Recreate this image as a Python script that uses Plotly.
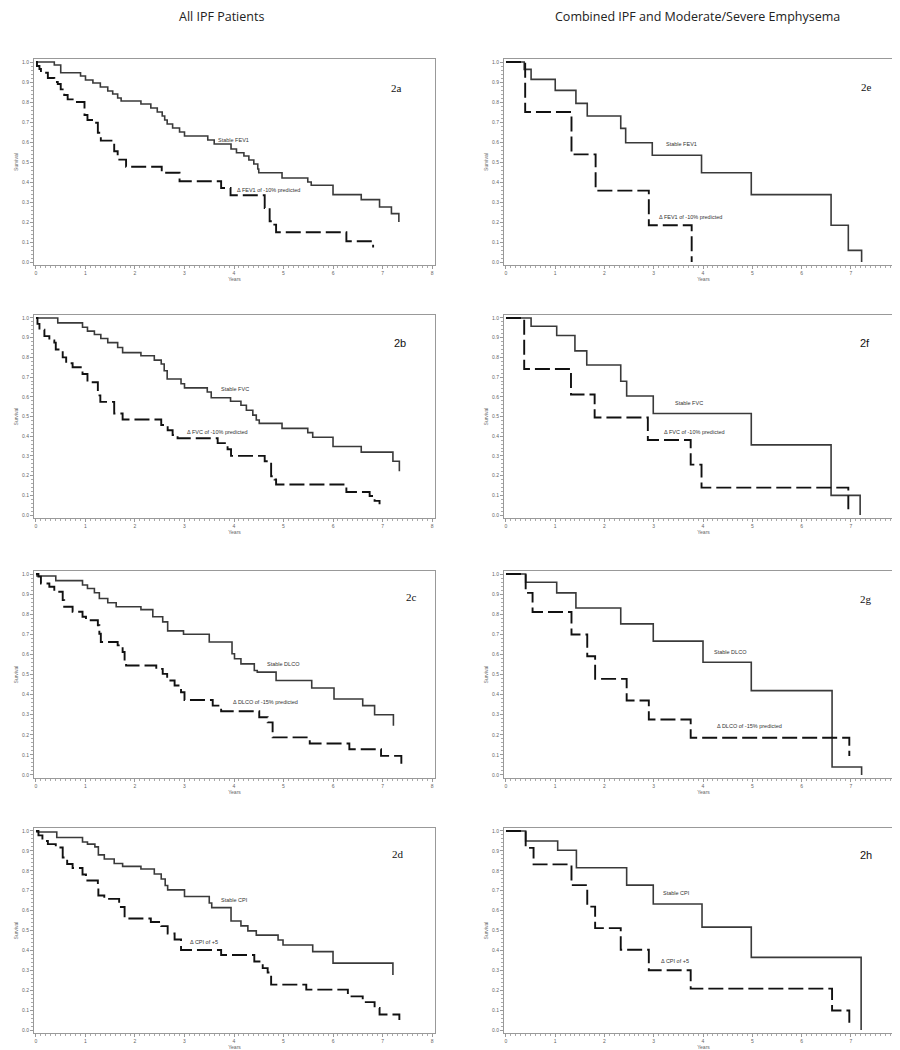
import plotly.graph_objects as go

# ---------------- data (years, survival) ----------------
# 2a  All IPF - FEV1
a_stable_t = [0, 0.37, 0.5, 0.9, 1.0, 1.15, 1.3, 1.45, 1.55, 1.65, 1.72, 2.12, 2.32, 2.45, 2.55, 2.6, 2.65, 2.76, 2.9, 3.0,
              3.47, 3.6, 3.94, 4.05, 4.2, 4.3, 4.4, 4.48, 4.5, 4.97, 5.49, 5.56, 6.0, 6.57, 6.94, 7.18, 7.33, 7.33]
a_stable_s = [1.0, 0.985, 0.946, 0.93, 0.91, 0.895, 0.875, 0.855, 0.84, 0.82, 0.805, 0.79, 0.77, 0.75, 0.73, 0.71, 0.69, 0.67, 0.65, 0.63,
              0.61, 0.59, 0.565, 0.546, 0.53, 0.51, 0.49, 0.465, 0.446, 0.42, 0.40, 0.384, 0.337, 0.312, 0.275, 0.242, 0.242, 0.20]
a_change_t = [0, 0.02, 0.07, 0.1, 0.24, 0.37, 0.44, 0.5, 0.57, 0.64, 0.77, 0.98, 1.04, 1.19, 1.25, 1.31, 1.58, 1.65, 1.82, 2.54,
              2.9, 3.74, 3.93, 4.62, 4.72, 4.78, 4.85, 6.27, 6.81, 6.81]
a_change_s = [1.0, 0.98, 0.965, 0.946, 0.92, 0.90, 0.89, 0.863, 0.835, 0.813, 0.80, 0.735, 0.71, 0.696, 0.646, 0.607, 0.554, 0.512, 0.476, 0.446,
              0.404, 0.37, 0.334, 0.27, 0.204, 0.187, 0.149, 0.104, 0.104, 0.073]

# 2b  All IPF - FVC
b_stable_t = [0, 0.44, 0.94, 1.04, 1.18, 1.31, 1.45, 1.65, 1.75, 2.12, 2.39, 2.53, 2.59, 2.65, 2.93, 3.0, 3.46, 3.54, 3.93, 4.14,
              4.25, 4.38, 4.45, 4.51, 4.97, 5.49, 5.59, 6.0, 6.57, 7.21, 7.34, 7.34]
b_stable_s = [1.0, 0.975, 0.953, 0.933, 0.916, 0.896, 0.875, 0.85, 0.824, 0.808, 0.786, 0.766, 0.732, 0.69, 0.666, 0.645, 0.624, 0.595, 0.577, 0.557,
              0.532, 0.507, 0.482, 0.465, 0.44, 0.418, 0.395, 0.348, 0.319, 0.273, 0.273, 0.222]
b_change_t = [0, 0.03, 0.07, 0.17, 0.27, 0.37, 0.4, 0.54, 0.61, 0.74, 0.94, 1.04, 1.25, 1.3, 1.58, 1.75, 2.53, 2.66, 2.76, 2.86,
              3.67, 3.87, 3.94, 4.62, 4.75, 4.82, 4.85, 6.27, 6.74, 6.84, 6.94, 6.94]
b_change_s = [1.0, 0.97, 0.94, 0.908, 0.886, 0.875, 0.84, 0.80, 0.77, 0.75, 0.716, 0.674, 0.607, 0.574, 0.515, 0.485, 0.457, 0.43, 0.406, 0.39,
              0.365, 0.334, 0.30, 0.273, 0.197, 0.18, 0.155, 0.117, 0.097, 0.072, 0.072, 0.055]

# 2c  All IPF - DLCO
c_stable_t = [0, 0.02, 0.4, 0.94, 1.04, 1.18, 1.28, 1.45, 1.62, 2.12, 2.36, 2.56, 2.66, 2.98, 3.5, 3.96, 4.01, 4.14, 4.41, 4.47,
              4.85, 5.57, 6.02, 6.6, 6.84, 7.22, 7.22]
c_stable_s = [1.0, 0.99, 0.967, 0.945, 0.928, 0.907, 0.878, 0.857, 0.837, 0.823, 0.787, 0.762, 0.717, 0.70, 0.662, 0.603, 0.578, 0.553, 0.52, 0.512,
              0.47, 0.433, 0.378, 0.345, 0.30, 0.30, 0.245]
c_change_t = [0, 0.05, 0.1, 0.27, 0.37, 0.54, 0.57, 0.74, 0.94, 1.01, 1.25, 1.28, 1.31, 1.65, 1.75, 1.79, 1.82, 2.43, 2.56, 2.65,
              2.8, 2.93, 3.0, 3.57, 3.74, 4.51, 4.68, 4.78, 5.53, 6.33, 6.97, 7.38, 7.38]
c_change_s = [1.0, 0.987, 0.953, 0.937, 0.912, 0.87, 0.837, 0.812, 0.787, 0.77, 0.745, 0.703, 0.662, 0.645, 0.612, 0.57, 0.545, 0.528, 0.503, 0.47,
              0.445, 0.412, 0.373, 0.345, 0.317, 0.287, 0.262, 0.187, 0.157, 0.128, 0.095, 0.095, 0.053]

# 2d  All IPF - CPI
d_stable_t = [0, 0.02, 0.42, 0.94, 1.04, 1.19, 1.26, 1.38, 1.58, 1.75, 2.12, 2.39, 2.53, 2.61, 2.66, 3.0, 3.5, 3.55, 3.94, 4.14,
              4.28, 4.45, 4.89, 4.99, 5.59, 6.0, 7.21, 7.21]
d_stable_s = [1.0, 0.995, 0.967, 0.945, 0.934, 0.92, 0.88, 0.859, 0.837, 0.822, 0.809, 0.784, 0.759, 0.726, 0.704, 0.671, 0.638, 0.615, 0.548, 0.523,
              0.498, 0.477, 0.452, 0.427, 0.394, 0.336, 0.336, 0.277]
d_change_t = [0, 0.05, 0.13, 0.24, 0.4, 0.54, 0.63, 0.74, 0.94, 1.01, 1.25, 1.26, 1.38, 1.68, 1.79, 2.32, 2.53, 2.66, 2.8, 2.93,
              3.74, 4.41, 4.58, 4.68, 4.75, 5.46, 6.3, 6.6, 6.84, 6.94, 7.34, 7.34]
d_change_s = [1.0, 0.978, 0.95, 0.934, 0.917, 0.867, 0.834, 0.814, 0.781, 0.751, 0.721, 0.676, 0.659, 0.618, 0.56, 0.543, 0.522, 0.485, 0.455, 0.402,
              0.377, 0.344, 0.311, 0.289, 0.228, 0.203, 0.169, 0.14, 0.111, 0.078, 0.078, 0.05]

# 2e  IPF + emphysema - FEV1
e_stable_t = [0, 0.37, 0.51, 1.0, 1.42, 1.65, 2.33, 2.43, 2.97, 3.97, 4.98, 6.6, 6.95, 7.22, 7.22]
e_stable_s = [1.0, 0.963, 0.913, 0.858, 0.793, 0.73, 0.668, 0.596, 0.534, 0.446, 0.337, 0.184, 0.058, 0.058, 0.0]
e_change_t = [0, 0.39, 1.33, 1.82, 2.9, 3.77, 3.77]
e_change_s = [1.0, 0.75, 0.538, 0.357, 0.184, 0.184, 0.0]

# 2f  IPF + emphysema - FVC
f_stable_t = [0, 0.51, 1.03, 1.4, 1.64, 2.33, 2.45, 2.99, 4.98, 6.6, 7.19, 7.19]
f_stable_s = [1.0, 0.958, 0.911, 0.833, 0.761, 0.679, 0.604, 0.515, 0.356, 0.10, 0.10, 0.0]
f_change_t = [0, 0.37, 1.32, 1.8, 2.88, 3.75, 3.97, 6.95, 6.95]
f_change_s = [1.0, 0.741, 0.612, 0.495, 0.381, 0.256, 0.139, 0.139, 0.03]

# 2g  IPF + emphysema - DLCO
g_stable_t = [0, 0.4, 1.03, 1.42, 2.33, 2.99, 4.0, 4.98, 6.62, 7.22, 7.22]
g_stable_s = [1.0, 0.959, 0.906, 0.831, 0.752, 0.666, 0.561, 0.42, 0.04, 0.04, 0.0]
g_change_t = [0, 0.4, 0.54, 1.33, 1.65, 1.81, 2.45, 2.9, 3.75, 6.97, 6.97]
g_change_s = [1.0, 0.906, 0.811, 0.699, 0.591, 0.478, 0.371, 0.276, 0.185, 0.185, 0.094]

# 2h  IPF + emphysema - CPI
h_stable_t = [0, 0.4, 1.05, 1.43, 2.45, 2.99, 3.98, 4.98, 7.21, 7.21]
h_stable_s = [1.0, 0.95, 0.903, 0.815, 0.728, 0.633, 0.517, 0.365, 0.365, 0.0]
h_change_t = [0, 0.4, 0.56, 1.33, 1.65, 1.81, 2.33, 2.9, 3.75, 6.62, 6.97, 6.97]
h_change_s = [1.0, 0.915, 0.832, 0.728, 0.62, 0.512, 0.403, 0.30, 0.208, 0.098, 0.098, 0.02]

panel_tags = ["2a", "2b", "2c", "2d", "2e", "2f", "2g", "2h"]
stable_labels = ["Stable FEV1", "Stable FVC", "Stable DLCO", "Stable CPI",
                 "Stable FEV1", "Stable FVC", "Stable DLCO", "Stable CPI"]
change_labels = ["\u0394 FEV1 of -10% predicted", "\u0394 FVC of -10% predicted",
                 "\u0394 DLCO of -15% predicted", "\u0394 CPI of +5",
                 "\u0394 FEV1 of -10% predicted", "\u0394 FVC of -10% predicted",
                 "\u0394 DLCO of -15% predicted", "\u0394 CPI of +5"]
column_titles = ["All IPF Patients", "Combined IPF and Moderate/Severe Emphysema"]
x_ticks = [0, 1, 2, 3, 4, 5, 6, 7, 8]
y_ticks = [0.0, 0.1, 0.2, 0.3, 0.4, 0.5, 0.6, 0.7, 0.8, 0.9, 1.0]

# ---------------- layout helpers (positions / styles) ----------------
stable_series = [(a_stable_t, a_stable_s), (b_stable_t, b_stable_s), (c_stable_t, c_stable_s), (d_stable_t, d_stable_s),
                 (e_stable_t, e_stable_s), (f_stable_t, f_stable_s), (g_stable_t, g_stable_s), (h_stable_t, h_stable_s)]
change_series = [(a_change_t, a_change_s), (b_change_t, b_change_s), (c_change_t, c_change_s), (d_change_t, d_change_s),
                 (e_change_t, e_change_s), (f_change_t, f_change_s), (g_change_t, g_change_s), (h_change_t, h_change_s)]

W, H = 900, 1050
col_px = [(26, 427), (496, 895)]
row_px = [(51, 257), (307, 510), (563, 770), (820, 1025)]
stable_lab_pos = [(3.64, 0.61), (3.69, 0.64), (4.62, 0.55), (3.69, 0.651),
                  (3.21, 0.588), (3.40, 0.569), (4.19, 0.613), (3.14, 0.687)]
change_lab_pos = [(4.01, 0.362), (3.0, 0.423), (3.94, 0.362), (3.07, 0.44),
                  (3.07, 0.225), (3.17, 0.421), (4.24, 0.243), (3.10, 0.345)]
tag_pos = [(7.28, 0.87), (7.35, 0.871), (7.58, 0.887), (7.31, 0.884),
           (7.31, 0.876), (7.29, 0.875), (7.31, 0.876), (7.31, 0.878)]
tag_font = ["Liberation Serif", "Liberation Sans", "Liberation Serif", "Liberation Serif",
            "Liberation Serif", "Liberation Sans", "Liberation Serif", "Liberation Sans"]

fig = go.Figure()
layout = dict(width=W, height=H, margin=dict(l=0, r=0, t=0, b=0),
              paper_bgcolor="white", plot_bgcolor="white", showlegend=False,
              font=dict(family="Liberation Sans", color="#444"))
annotations = []

for i in range(8):
    col = 0 if i < 4 else 1
    row = i % 4
    n = i + 1
    xa = "x" if n == 1 else f"x{n}"
    ya = "y" if n == 1 else f"y{n}"
    xkey = "xaxis" if n == 1 else f"xaxis{n}"
    ykey = "yaxis" if n == 1 else f"yaxis{n}"
    x0, x1 = col_px[col]
    yt, yb = row_px[row]
    layout[xkey] = dict(
        domain=[x0 / W, x1 / W], anchor=ya,
        range=[-0.04, 8.06], tickvals=x_ticks, ticktext=[str(v) for v in x_ticks],
        ticks="outside", ticklen=3, tickwidth=1, tickcolor="#999",
        tickfont=dict(size=5, color="#666"),
        minor=dict(dtick=0.1, tick0=0, ticks="outside", ticklen=2, tickcolor="#aaa", tickwidth=1),
        showline=True, linecolor="#999", linewidth=1, mirror=True,
        showgrid=False, zeroline=False,
        title=dict(text="Years", font=dict(size=5, color="#666"), standoff=1),
    )
    layout[ykey] = dict(
        domain=[1 - yb / H, 1 - yt / H], anchor=xa,
        range=[-0.015, 1.015], tickvals=y_ticks, ticktext=[f"{v:.1f}" for v in y_ticks],
        ticks="outside", ticklen=3, tickwidth=1, tickcolor="#999",
        tickfont=dict(size=5, color="#666"),
        minor=dict(dtick=0.02, tick0=0, ticks="outside", ticklen=2, tickcolor="#aaa", tickwidth=1),
        showline=True, linecolor="#999", linewidth=1, mirror=True,
        showgrid=False, zeroline=False,
        title=dict(text="Survival", font=dict(size=5, color="#666"), standoff=3),
    )
    st, ss = stable_series[i]
    ct, cs = change_series[i]
    fig.add_trace(go.Scatter(x=st, y=ss, mode="lines", line=dict(shape="hv", color="#3a3a3a", width=1.6),
                             xaxis=xa, yaxis=ya, hoverinfo="skip"))
    fig.add_trace(go.Scatter(x=ct, y=cs, mode="lines", line=dict(shape="hv", color="#111", width=1.9, dash="15px,5px"),
                             xaxis=xa, yaxis=ya, hoverinfo="skip"))
    sx, sy = stable_lab_pos[i]
    cx, cy = change_lab_pos[i]
    annotations.append(dict(x=sx, y=sy, xref=xa, yref=ya, text=stable_labels[i], showarrow=False,
                            xanchor="left", yanchor="middle", font=dict(size=5.5, color="#333")))
    annotations.append(dict(x=cx, y=cy, xref=xa, yref=ya, text=change_labels[i], showarrow=False,
                            xanchor="left", yanchor="middle", font=dict(size=5.5, color="#333")))
    tx, ty = tag_pos[i]
    annotations.append(dict(x=tx, y=ty, xref=xa, yref=ya, text=panel_tags[i], showarrow=False,
                            xanchor="center", yanchor="middle",
                            font=dict(size=11, color="#111", family=tag_font[i])))

annotations.append(dict(x=213 / W, y=1 - 8 / H, xref="paper", yref="paper", text=column_titles[0],
                        showarrow=False, xanchor="center", yanchor="middle",
                        font=dict(size=12.5, color="#222", family="Open Sans")))
annotations.append(dict(x=689 / W, y=1 - 8 / H, xref="paper", yref="paper", text=column_titles[1],
                        showarrow=False, xanchor="center", yanchor="middle",
                        font=dict(size=12.5, color="#222", family="Open Sans")))

layout["annotations"] = annotations
fig.update_layout(**layout)
fig.write_html("out.html")
